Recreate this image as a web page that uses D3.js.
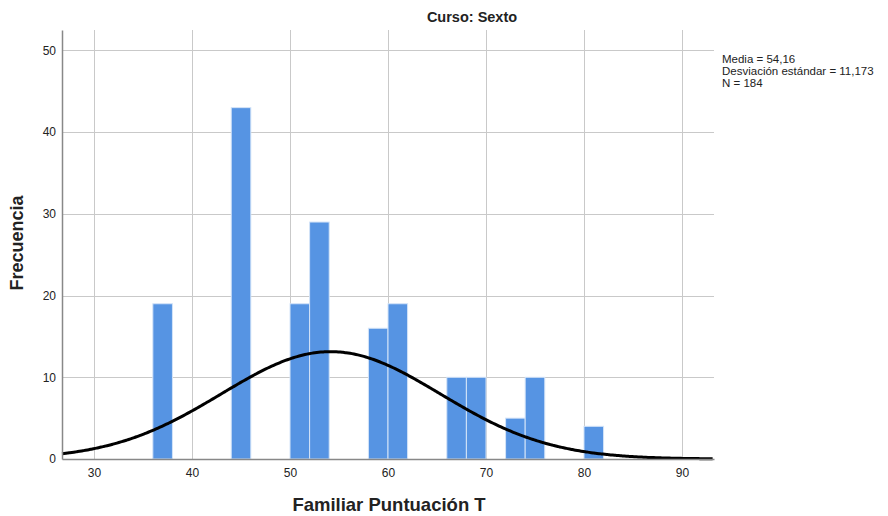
<!DOCTYPE html>
<html>
<head>
<meta charset="utf-8">
<script src="https://cdn.jsdelivr.net/npm/d3@7"></script>
<style>
  html, body { margin: 0; padding: 0; background: #fff; }
  svg { display: block; font-family: "Liberation Sans", Arial, sans-serif; }
</style>
</head>
<body>
<svg id="chart" width="888" height="516"></svg>
<script>
// Histogram bins (lower edge, bin width 2) and frequencies
const binStarts = [36, 44, 50, 52, 58, 60, 66, 68, 72, 74, 80];
const binCounts = [19, 43, 19, 29, 16, 19, 10, 10, 5, 10, 4];
const binWidth = 2;
const xTicks = [30, 40, 50, 60, 70, 80, 90];
const yTicks = [0, 10, 20, 30, 40, 50];
const mean = 54.16, sd = 11.173, n = 184;
const statLines = ["Media = 54,16", "Desviación estándar = 11,173", "N = 184"];

const svg = d3.select("#chart");
const plot = { left: 62, right: 714, top: 30, bottom: 459 };

const x = d3.scaleLinear().domain([26.73, 93.27]).range([plot.left, plot.right]);
const y = d3.scaleLinear().domain([0, 52.5]).range([plot.bottom, plot.top]);

// Grid lines
const grid = svg.append("g").attr("stroke", "#c9c9c9").attr("stroke-width", 1);
grid.selectAll("line.v").data(xTicks).join("line")
  .attr("x1", d => Math.round(x(d)) + 0.5).attr("x2", d => Math.round(x(d)) + 0.5)
  .attr("y1", plot.top).attr("y2", plot.bottom);
grid.selectAll("line.h").data(yTicks.filter(d => d > 0)).join("line")
  .attr("x1", plot.left).attr("x2", plot.right)
  .attr("y1", d => Math.round(y(d)) + 0.5).attr("y2", d => Math.round(y(d)) + 0.5);

// Bars
svg.append("g").selectAll("rect").data(binStarts.map((s, i) => ({ s, c: binCounts[i] })))
  .join("rect")
  .attr("x", d => x(d.s))
  .attr("width", d => x(d.s + binWidth) - x(d.s))
  .attr("y", d => y(d.c))
  .attr("height", d => y(0) - y(d.c))
  .attr("fill", "#5694e3")
  .attr("stroke", "#d4e4f8")
  .attr("stroke-width", 1);

// Normal curve scaled to the histogram
const scale = n * binWidth / (sd * Math.sqrt(2 * Math.PI));
const xs = d3.range(x.domain()[0], x.domain()[1] + 0.01, 0.2);
const line = d3.line()
  .x(d => x(d))
  .y(d => y(scale * Math.exp(-0.5 * ((d - mean) / sd) ** 2)))
  .curve(d3.curveBasis);
svg.append("path").datum(xs)
  .attr("d", line)
  .attr("fill", "none")
  .attr("stroke", "#000")
  .attr("stroke-width", 3);

// Axes
const xAxis = svg.append("g").attr("transform", `translate(0,${plot.bottom})`)
  .call(d3.axisBottom(x).tickValues(xTicks).tickSize(0).tickPadding(9));
const yAxis = svg.append("g").attr("transform", `translate(${plot.left},0)`)
  .call(d3.axisLeft(y).tickValues(yTicks).tickSize(0).tickPadding(6));
[xAxis, yAxis].forEach(a => {
  a.select(".domain").attr("stroke", "#888").attr("stroke-width", 1.5);
  a.selectAll("text").attr("font-size", 12).attr("fill", "#222")
    .attr("font-family", "'Liberation Sans', Arial, sans-serif");
});

// Titles
svg.append("text").attr("x", 472).attr("y", 22).attr("text-anchor", "middle")
  .attr("font-size", 14.5).attr("font-weight", "bold").attr("fill", "#222")
  .text("Curso: Sexto");
svg.append("text").attr("x", 389).attr("y", 511).attr("text-anchor", "middle")
  .attr("font-size", 18.5).attr("font-weight", "bold").attr("fill", "#222")
  .text("Familiar Puntuación T");
svg.append("text").attr("transform", "translate(23,243) rotate(-90)")
  .attr("text-anchor", "middle")
  .attr("font-size", 18).attr("font-weight", "bold").attr("fill", "#222")
  .text("Frecuencia");

// Summary statistics
svg.append("g").selectAll("text").data(statLines).join("text")
  .attr("x", 722).attr("y", (d, i) => 63 + i * 12)
  .attr("font-size", 11.5).attr("fill", "#222")
  .text(d => d);
</script>
</body>
</html>
